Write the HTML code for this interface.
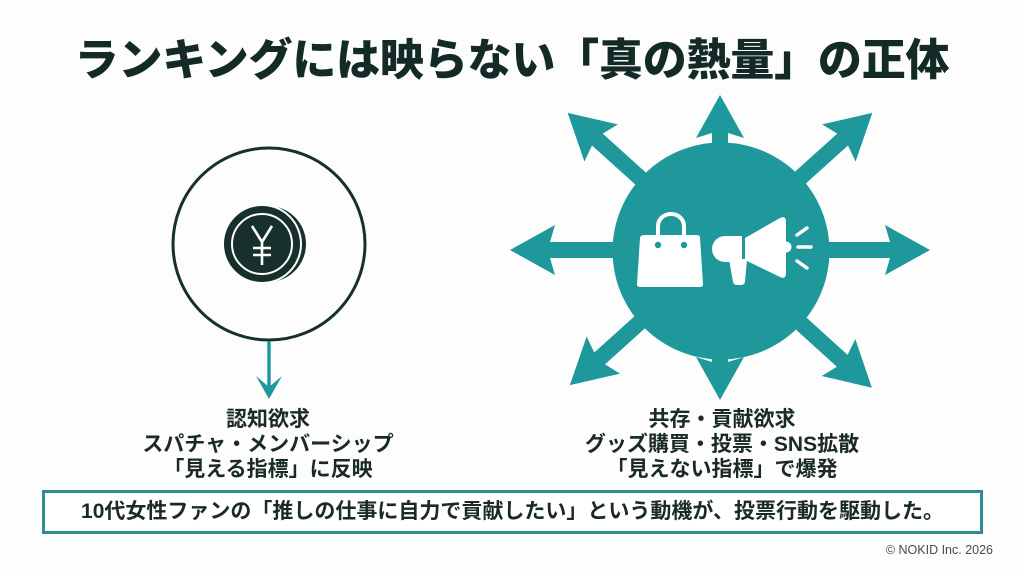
<!DOCTYPE html>
<html lang="ja">
<head>
<meta charset="utf-8">
<style>
  html, body { margin:0; padding:0; }
  body { width:1024px; height:576px; position:relative; overflow:hidden; background:#fdfdfd;
    font-family:"Liberation Sans","Noto Sans CJK JP",sans-serif; color:#17302b; }
  .t { position:absolute; white-space:nowrap; font-family:"Liberation Sans","Noto Sans CJK JP",sans-serif; }
  #title { left:0; width:1024px; top:37px; text-align:center; font-size:44px; line-height:48px; font-weight:900; color:#142a26; letter-spacing:-0.2px; }
  .lbl { font-size:21px; line-height:25px; font-weight:700; text-align:center; color:#1a2a27; }
  #box { position:absolute; left:42px; top:490px; width:935px; height:38px; border:3px solid #2b8f90; background:#fff; }
  #boxt { left:42px; width:941px; top:499px; text-align:center; font-size:21px; line-height:26px; font-weight:700; color:#1a2a27; }
  #copy { right:31px; top:542px; font-size:12.5px; line-height:16px; color:#4a4a4a; }
  svg { position:absolute; left:0; top:0; }
</style>
</head>
<body>
<svg width="1024" height="576" viewBox="0 0 1024 576" xmlns="http://www.w3.org/2000/svg">
  <!-- Left circle -->
  <circle cx="269" cy="244" r="96" fill="none" stroke="#17302b" stroke-width="3"/>
  <!-- Coin -->
  <circle cx="268" cy="244" r="38" fill="#17302b"/>
  <circle cx="262" cy="244" r="40" fill="#fdfdfd"/>
  <circle cx="262" cy="244" r="38" fill="#17302b"/>
  <circle cx="262" cy="244" r="30" fill="none" stroke="#fff" stroke-width="2"/>
  <g stroke="#fff" stroke-width="2.6" fill="none" stroke-linecap="butt">
    <path d="M252,226 L262,242 L272,226"/>
    <path d="M262,242 L262,265"/>
    <path d="M253,248 L271,248"/>
    <path d="M253,255 L271,255"/>
  </g>
  <!-- Down arrow -->
  <line x1="269" y1="341" x2="269" y2="388" stroke="#1e989b" stroke-width="3.5"/>
  <polygon points="269,399 256,376 269,387 282,376" fill="#1e989b"/>

  <!-- Radiating arrows -->
  <g fill="#1e989b">
    <g transform="translate(720,250) rotate(0)"><path d="M0,-8 L170,-8 L165,-25 L210,0 L165,25 L170,8 L0,8 Z"/></g>
    <g transform="translate(720,250) rotate(180)"><path d="M0,-8 L170,-8 L165,-25 L210,0 L165,25 L170,8 L0,8 Z"/></g>
    <g transform="translate(720,250) rotate(-90)"><path d="M0,-8 L117,-8 L112,-24 L155,0 L112,24 L117,8 L0,8 Z"/></g>
    <g transform="translate(720,250) rotate(90)"><path d="M0,-8 L112,-8 L107,-24 L150,0 L107,24 L112,8 L0,8 Z"/></g>
    <g transform="translate(720,250) rotate(-138)"><path d="M0,-8 L165,-8 L160,-25 L205,0 L160,25 L165,8 L0,8 Z"/></g>
    <g transform="translate(720,250) rotate(-42)"><path d="M0,-8 L165,-8 L160,-25 L205,0 L160,25 L165,8 L0,8 Z"/></g>
    <g transform="translate(720,250) rotate(138)"><path d="M0,-8 L162,-8 L157,-25 L202,0 L157,25 L162,8 L0,8 Z"/></g>
    <g transform="translate(720,250) rotate(42.2)"><path d="M0,-8 L165,-8 L160,-25 L205,0 L160,25 L165,8 L0,8 Z"/></g>
    <circle cx="721" cy="251" r="108.5"/>
  </g>

  <!-- Bag -->
  <path d="M645,235 L697,235 Q700,235 700,238 L703,284 Q703,287 700,287 L640,287 Q637,287 637,284 L640,238 Q640,235 645,235 Z" fill="#fff"/>
  <path d="M658,244 L658,226 A13,12 0 0 1 684,226 L684,244" fill="none" stroke="#fff" stroke-width="4"/>
  <circle cx="658" cy="245" r="4.2" fill="#1e989b" stroke="#fff" stroke-width="2"/>
  <circle cx="684" cy="245" r="4.2" fill="#1e989b" stroke="#fff" stroke-width="2"/>

  <!-- Megaphone -->
  <g fill="#fff">
    <path d="M725,236 L742,236 L742,262 L725,262 A13,13 0 0 1 725,236 Z"/>
    <path d="M729,259 L747,259 L745,282 Q744,285 741,285 L737,285 Q734,285 733,282 Z"/>
    <path d="M745,238 L780,218 Q786,215 786,222 L786,273 Q786,280 780,277 L745,260 Z"/>
    <circle cx="786" cy="247" r="5.5"/>
  </g>
  <g stroke="#fff" stroke-width="3.5" stroke-linecap="round" fill="none">
    <path d="M797,235 L807,228"/>
    <path d="M798,247 L811,247"/>
    <path d="M797,261 L807,268"/>
  </g>
</svg>

<div class="t" id="title">ランキングには映らない「真の熱量」の正体</div>

<div class="t lbl" style="left:118px; width:300px; top:407px;">認知欲求<br>スパチャ・メンバーシップ<br>「見える指標」に反映</div>
<div class="t lbl" style="left:572px; width:300px; top:407px;">共存・貢献欲求<br>グッズ購買・投票・SNS拡散<br>「見えない指標」で爆発</div>

<div id="box"></div>
<div class="t" id="boxt">10代女性ファンの「推しの仕事に自力で貢献したい」という動機が、投票行動を駆動した。</div>

<div class="t" id="copy">© NOKID Inc. 2026</div>
</body>
</html>
